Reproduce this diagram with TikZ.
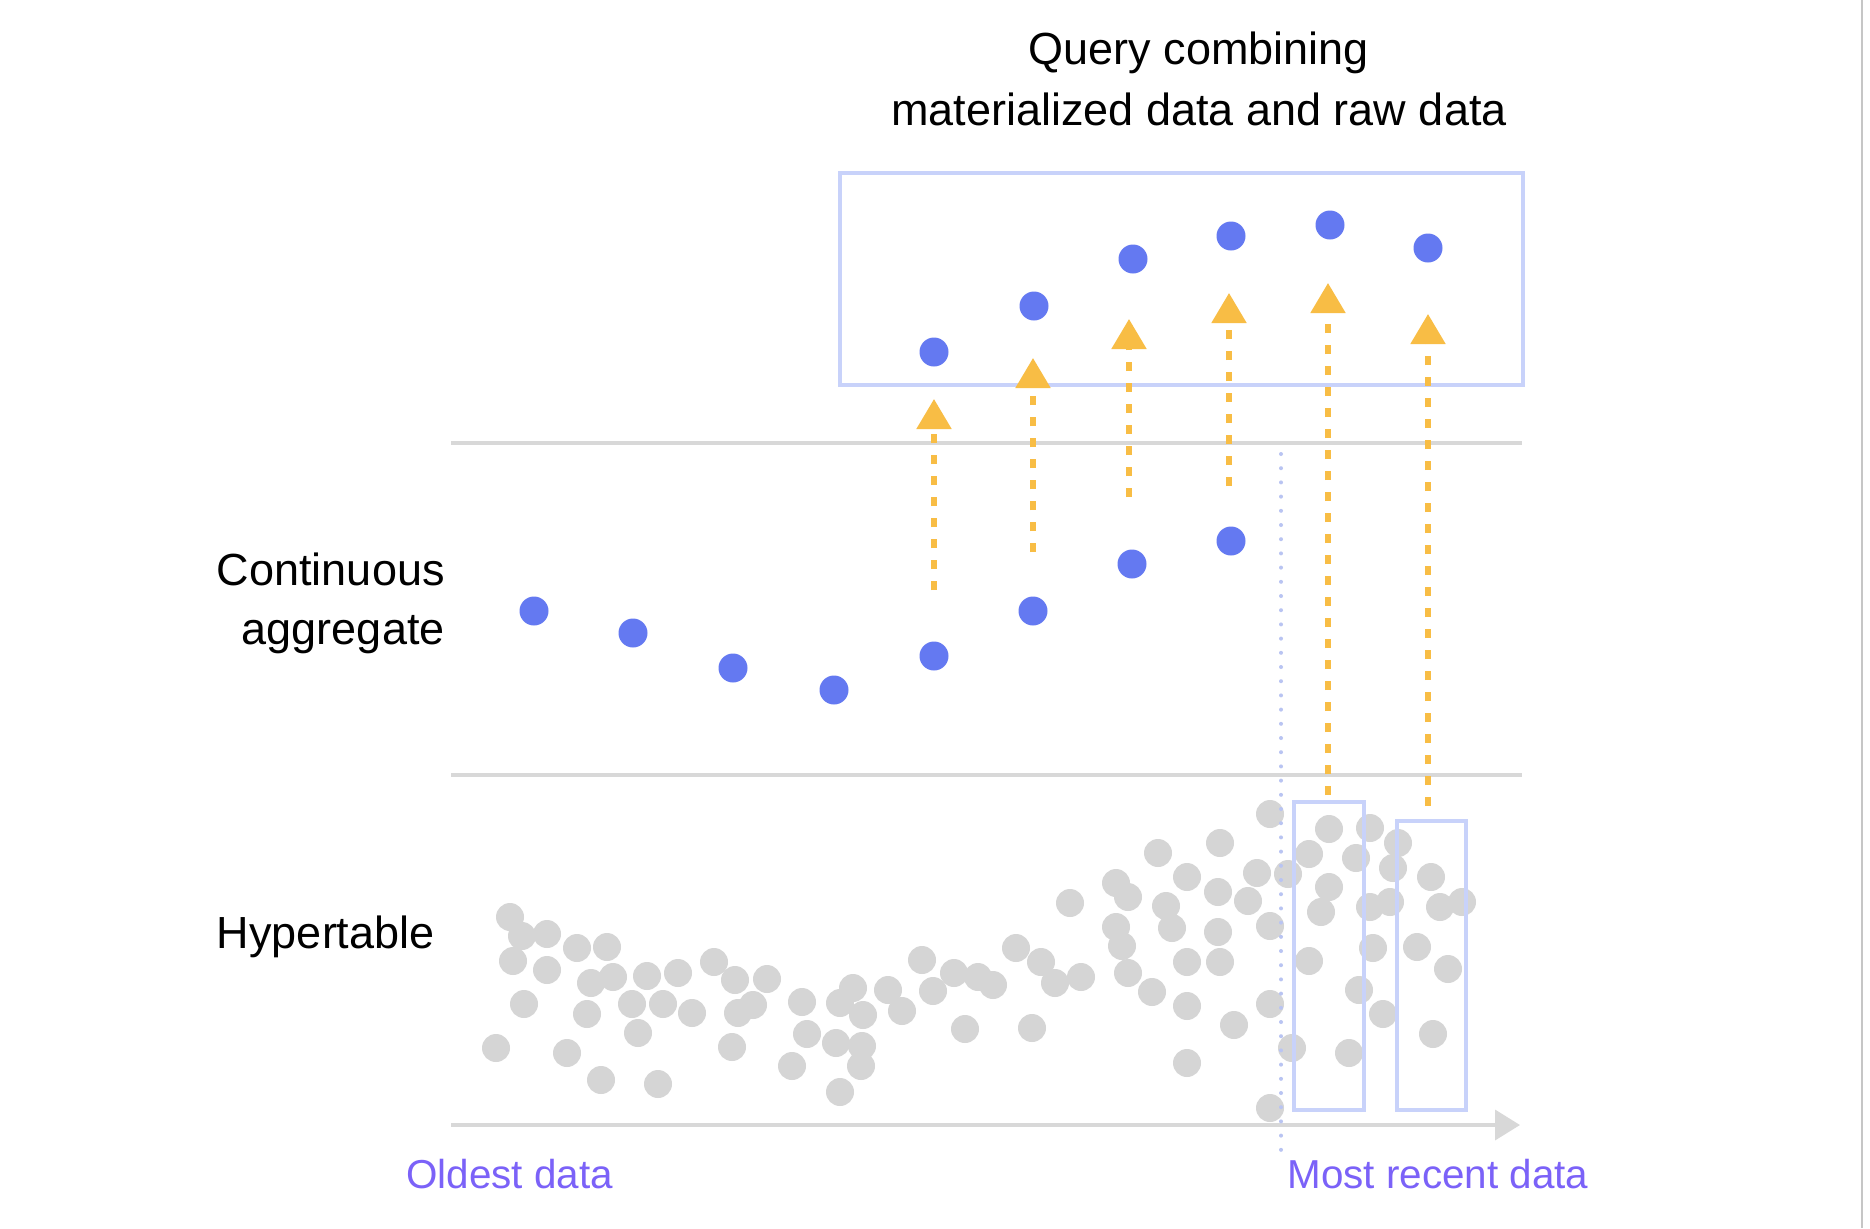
\documentclass[tikz,border=0pt]{standalone}
\usepackage{fontspec}
\setmainfont{Liberation Sans}
\usetikzlibrary{arrows.meta}
\definecolor{dotblue}{HTML}{6479F1}
\definecolor{arrowyel}{HTML}{F8BD45}
\definecolor{dotgrey}{HTML}{D5D5D5}
\definecolor{linegrey}{HTML}{D8D8D8}
\definecolor{boxblue}{HTML}{C8D2FA}
\definecolor{labelpurple}{HTML}{7B62F8}
\definecolor{dotline}{HTML}{B9C4F2}
\definecolor{edgegrey}{HTML}{C6C6C6}
\begin{document}
\begin{tikzpicture}[x=0.5pt,y=-0.5pt,
  bluedot/.style={circle,fill=dotblue,inner sep=0pt,minimum size=14.5pt},
  greydot/.style={circle,fill=dotgrey,inner sep=0pt,minimum size=14pt},
  sepline/.style={draw=linegrey,line width=1.8pt},
  qbox/.style={draw=boxblue,line width=2pt},
  uparrow/.style={draw=arrowyel,line width=2.6pt,dash pattern=on 4.5pt off 6pt,
     -{Triangle[width=17pt,length=15pt,fill=arrowyel]}},
  blacklabel/.style={font=\fontsize{22.5}{27}\selectfont,text=black,inner sep=0pt},
  purplelabel/.style={font=\fontsize{20.2}{24}\selectfont,text=labelpurple,inner sep=0pt},
]
\useasboundingbox (0,0) rectangle (1870,1228);
\fill[white] (0,0) rectangle (1870,1228);
% right edge line
\coordinate (ea) at (1862,0);
\coordinate (eb) at (1862,1228);
\draw[draw=edgegrey,line width=1pt] (ea) -- (eb);

% titles and labels
\node[blacklabel,anchor=base] (t1) at (1199,64) {Query combining};
\node[blacklabel,anchor=base] (t2) at (1199,125) {materialized data and raw data};
\node[blacklabel,anchor=base east] (c1) at (445,585) {Continuous};
\node[blacklabel,anchor=base east] (c2) at (445,644) {aggregate};
\node[blacklabel,anchor=base east] (h1) at (435,948) {Hypertable};
\node[purplelabel,anchor=base west] (old) at (406,1188) {Oldest data};
\node[purplelabel,anchor=base west] (new) at (1287,1188) {Most recent data};

% separator lines and axis
\coordinate (l1a) at (451,443); \coordinate (l1b) at (1522,443);
\coordinate (l2a) at (451,775); \coordinate (l2b) at (1522,775);
\coordinate (axs) at (451,1125); \coordinate (axe) at (1520,1125);
\draw[sepline] (l1a) -- (l1b);
\draw[sepline] (l2a) -- (l2b);
\draw[sepline,-{Triangle[width=15pt,length=12.5pt,fill=linegrey]}] (axs) -- (axe);

% grey raw data dots
\foreach \p [count=\i] in {
 (510,917),(522,936),(547,934),(513,961),(547,970),(577,948),(607,947),(591,983),(613,977),(647,976),(678,973),(714,962),(524,1004),(587,1014),(632,1004),(663,1004),(692,1013),(638,1033),(496,1048),(567,1053),(601,1080),(658,1084),
 (735,980),(767,979),(753,1005),(738,1013),(732,1047),(802,1002),(807,1034),(792,1066),(853,988),(840,1003),(863,1015),(836,1043),(862,1046),(861,1066),(840,1092),(888,990),(902,1011),(922,960),(933,991),(954,973),(978,977),(965,1029),
 (993,985),(1016,948),(1041,962),(1055,983),(1081,977),(1032,1028),(1070,903),(1116,883),(1128,897),(1116,927),(1122,946),(1128,973),(1152,992),(1158,853),(1166,906),(1172,928),(1187,877),(1187,962),(1187,1006),(1187,1063),(1220,843),(1218,892),(1218,932),(1220,962),(1234,1025),
 (1270,814),(1257,873),(1248,901),(1288,874),(1270,926),(1270,1004),(1270,1108),(1329,829),(1309,854),(1356,858),(1370,828),(1329,887),(1321,912),(1370,907),(1390,902),(1398,843),(1393,868),(1309,961),(1373,948),(1359,990),(1383,1014),(1292,1048),(1349,1053),(1431,877),(1440,907),(1462,902),(1417,947),(1448,969),(1433,1034)}
  \node[greydot] (g\i) at \p {};

% dotted boundary line
\coordinate (da) at (1281,454); \coordinate (db) at (1281,1152);
\draw[draw=dotline,line width=2pt,line cap=round,dash pattern=on 0pt off 7.1pt] (da) -- (db);

% raw-data windows
\coordinate (r1a) at (1294,802); \coordinate (r1b) at (1364,1110);
\coordinate (r2a) at (1397,821); \coordinate (r2b) at (1466,1110);
\draw[qbox] (r1a) rectangle (r1b);
\draw[qbox] (r2a) rectangle (r2b);

% query box
\coordinate (qa) at (840,173); \coordinate (qb) at (1523,385);
\draw[qbox] (qa) rectangle (qb);

% continuous aggregate dots
\node[bluedot] (b1) at (534,611) {};
\node[bluedot] (b2) at (633,633) {};
\node[bluedot] (b3) at (733,668) {};
\node[bluedot] (b4) at (834,690) {};
\node[bluedot] (b5) at (934,656) {};
\node[bluedot] (b6) at (1033,611) {};
\node[bluedot] (b7) at (1132,564) {};
\node[bluedot] (b8) at (1231,541) {};

% query result dots
\node[bluedot] (q1) at (934,352) {};
\node[bluedot] (q2) at (1034,306) {};
\node[bluedot] (q3) at (1133,259) {};
\node[bluedot] (q4) at (1231,236) {};
\node[bluedot] (q5) at (1330,225) {};
\node[bluedot] (q6) at (1428,248) {};

% arrows
\coordinate (a1s) at (934,590);  \coordinate (a1e) at (934,399);
\coordinate (a2s) at (1033,552); \coordinate (a2e) at (1033,358);
\coordinate (a3s) at (1129,497); \coordinate (a3e) at (1129,319);
\coordinate (a4s) at (1229,486); \coordinate (a4e) at (1229,293);
\coordinate (a5s) at (1328,795); \coordinate (a5e) at (1328,283);
\coordinate (a6s) at (1428,806); \coordinate (a6e) at (1428,314);
\foreach \k in {1,...,6}
  \draw[uparrow] (a\k s) -- (a\k e);
\end{tikzpicture}
\end{document}
